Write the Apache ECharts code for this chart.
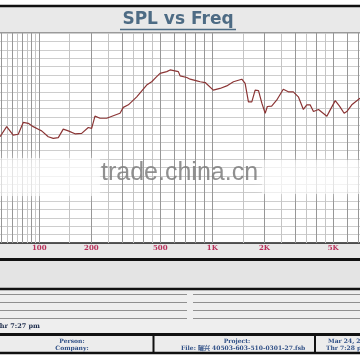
<!DOCTYPE html>
<html><head><meta charset="utf-8">
<script src="https://cdn.jsdelivr.net/npm/echarts@6/dist/echarts.min.js"></script>
<style>html,body{margin:0;padding:0;background:#fff}#c{width:360px;height:360px}</style>
</head><body><div id="c"></div>
<script>
const freq = [59.3,64.8,70.7,75.6,80.8,86.4,92.3,98.7,103.2,112.7,120.5,128.8,137.6,147.1,160.8,175.8,192,200.8,209.9,224.4,245.4,267.8,292.8,306.1,327.3,365.9,417.6,446.4,477.2,498.9,545.6,570.4,636.6,651.4,712.4,744.8,814.4,851.6,910.3,1013,1108,1212,1325,1481,1548,1618,1692,1769,1850,1934,2022,2080,2203,2355,2572,2750,2940,3144,3361,3517,3677,3844,4110,4595,4805,5136,5437,5783,5991,6402,7141];
const spl = [75.3,77.7,75.7,75.9,78.7,78.5,77.7,77.1,76.7,75.3,74.9,75.1,77.1,76.7,76.0,76.1,77.5,77.3,80.2,79.7,79.7,80.3,80.9,82.3,82.9,84.8,87.6,88.4,89.6,90.4,90.8,91.2,90.8,89.8,89.4,89.0,88.6,88.4,88.2,86.4,86.8,87.4,88.4,89.0,88.0,83.6,83.6,86.4,86.3,83.3,80.9,82.5,82.6,84.0,86.6,86.0,86.0,84.8,81.8,82.9,82.9,81.3,81.8,80.2,81.7,83.9,82.6,80.9,81.3,82.9,84.5];
const gridMajor = [60,70,80,90,100,200,300,400,500,600,700,800,900,1000,2000,3000,4000,5000,6000,7000];
const gridMinor = [65,75,85,95,150,250,350,450,1500,2500,3500,4500];
const tickValues = [100,200,500,1000,2000,5000];
const tickLabels = {100:'100',200:'200',500:'500',1000:'1K',2000:'2K',5000:'5K'};
const xMin = 59.3, xMax = 7141;
const yMin = 50, yMax = 100, yStep = 2;

const chart = echarts.init(document.getElementById('c'), null, {renderer:'canvas'});
const markData = gridMajor.map(v => ({xAxis: v, lineStyle:{color:'#979797', width:1, type:'solid'}}))
  .concat(gridMinor.map(v => ({xAxis: v, lineStyle:{color:'#c4c4c4', width:1, type:'solid'}})));

const black = '#111';
const txtBlue = '#2f4f86';
function hline(y, x1, x2, w, c){return {type:'line', z:-5, shape:{x1:x1,y1:y,x2:x2,y2:y}, style:{stroke:c, lineWidth:w}, silent:true};}
function rect(x,y,w,h,c,z){return {type:'rect', z:(z===undefined?-10:z), shape:{x:x,y:y,width:w,height:h}, style:{fill:c}, silent:true};}
function txt(t,x,y,align,font,c){return {type:'text', z:5, style:{text:t,x:x,y:y,textAlign:align,textVerticalAlign:'middle',font:font,fill:c}, silent:true};}

const elements = [
  rect(0,7,360,25,'#e9e9e9'),
  hline(6,0,360,2.5,black),
  hline(32.5,0,360,1,'#9a9a9a'),
  txt('SPL vs Freq',178,20,'center','bold 17px "DejaVu Sans"','#4d6b84'),
  hline(29.5,120,236,1.5,'#4d6b84'),
  rect(0,244,360,14,'#e8e8e8'),
  hline(259.5,0,360,3,black),
  rect(0,261,360,27,'#e4e4e4'),
  hline(289,0,360,2.5,black),
  rect(0,290,360,44,'#eeeeee'),
  hline(294.5,0,180,1,'#8f8f8f'), hline(302.5,0,180,1,'#8f8f8f'), hline(310.5,0,180,1,'#8f8f8f'), hline(318.5,0,180,1,'#8f8f8f'),
  hline(294.5,180,187,1,'#8f8f8f'), hline(302.5,180,187,1,'#8f8f8f'), hline(310.5,180,187,1,'#8f8f8f'), hline(318.5,180,187,1,'#8f8f8f'),
  hline(294.5,193,360,1,'#8f8f8f'), hline(302.5,193,360,1,'#8f8f8f'), hline(310.5,193,360,1,'#8f8f8f'), hline(318.5,193,360,1,'#8f8f8f'),
  txt('Thr 7:27 pm',-5,326,'left','bold 6.5px "DejaVu Serif"','#1a2a4a'),
  hline(334.5,0,360,3,black),
  rect(0,336,360,16,'#ececec'),
  {type:'line', z:-5, shape:{x1:153.5,y1:336,x2:153.5,y2:352}, style:{stroke:black,lineWidth:2}, silent:true},
  {type:'line', z:-5, shape:{x1:315,y1:336,x2:315,y2:352}, style:{stroke:black,lineWidth:2}, silent:true},
  hline(353,0,360,2.5,black),
  txt('Person:',72,341,'center','bold 6px "DejaVu Serif"',txtBlue),
  txt('Company:',72,348,'center','bold 6px "DejaVu Serif"',txtBlue),
  txt('Project:',237,341,'center','bold 6px "DejaVu Serif"',txtBlue),
  txt('File: 曬兴 40503-603-510-0301-27.fsb',181,348,'left','bold 6px "DejaVu Serif", "Noto Sans CJK SC"',txtBlue),
  txt('Mar 24, 2009',328,341,'left','bold 6px "DejaVu Serif"',txtBlue),
  txt('Thr 7:28 pm',326,348,'left','bold 6px "DejaVu Serif"',txtBlue),
  // watermark wash
  {type:'rect', z:50, shape:{x:0,y:158,width:100,height:38}, style:{fill:'rgba(255,255,255,0.55)', shadowBlur:10, shadowColor:'rgba(255,255,255,0.8)'}, silent:true},
  {type:'rect', z:50, shape:{x:262,y:160,width:98,height:34}, style:{fill:'rgba(255,255,255,0.55)', shadowBlur:10, shadowColor:'rgba(255,255,255,0.8)'}, silent:true},
  {type:'text', z:60, style:{text:'trade.china.cn', x:101, y:173, textAlign:'left', textVerticalAlign:'middle', font:'25px "Liberation Sans"', fill:'rgba(125,125,125,0.85)'}, silent:true}
];

chart.setOption({
  animation:false,
  backgroundColor:'#ffffff',
  grid:{left:0,right:0,top:33,bottom:117,containLabel:false},
  xAxis:{type:'log', logBase:10, min:xMin, max:xMax,
    axisLine:{show:true,lineStyle:{color:'#222',width:1.5}},
    axisTick:{show:false}, splitLine:{show:false}, minorTick:{show:false},
    axisLabel:{show:true, customValues:tickValues, margin:2, color:'#b8305a', fontSize:7, fontWeight:'bold', fontFamily:'"DejaVu Serif"',
      formatter:function(v){return tickLabels[Math.round(v)] || '';}}},
  yAxis:{type:'value', min:yMin, max:yMax, interval:yStep,
    axisLine:{show:false}, axisTick:{show:false}, axisLabel:{show:false},
    splitLine:{show:true,lineStyle:{color:'#cdcdcd',width:1}}},
  series:[{type:'line', data:freq.map((f,i)=>[f,spl[i]]), showSymbol:false, smooth:false,
    lineStyle:{color:'#8b3535',width:1.2}, z:3,
    markLine:{silent:true, symbol:'none', label:{show:false}, animation:false, z:1, data:markData}}],
  graphic:{elements:elements}
});
</script></body></html>
